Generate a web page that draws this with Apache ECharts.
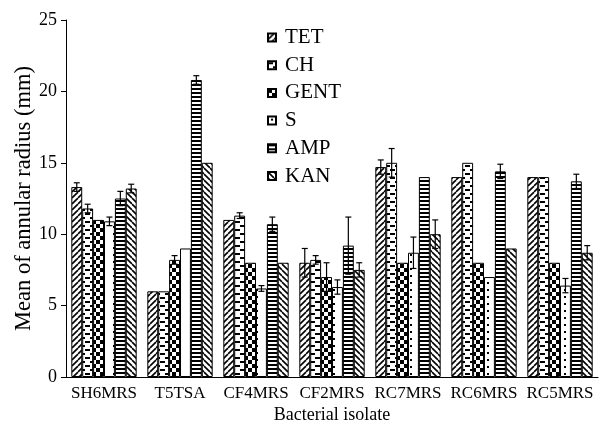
<!DOCTYPE html>
<html>
<head>
<meta charset="utf-8">
<script src="https://cdn.jsdelivr.net/npm/echarts@6/dist/echarts.min.js"></script>
<style>html,body{margin:0;padding:0;background:#fff}#c{width:599px;height:424px}</style>
</head>
<body>
<div id="c"></div>
<script>
const categories = ['SH6MRS', 'T5TSA', 'CF4MRS', 'CF2MRS', 'RC7MRS', 'RC6MRS', 'RC5MRS'];
const seriesNames = ['TET', 'CH', 'GENT', 'S', 'AMP', 'KAN'];
const tetValues  = [13.3, 6.0, 11.0, 8.0, 14.7, 14.0, 14.0];
const tetErrors  = [0.3, 0, 0, 1.0, 0.5, 0, 0];
const chValues   = [11.8, 6.0, 11.3, 8.2, 15.0, 15.0, 14.0];
const chErrors   = [0.3, 0, 0.2, 0.3, 1.0, 0, 0];
const gentValues = [11.0, 8.2, 8.0, 7.0, 8.0, 8.0, 8.0];
const gentErrors = [0, 0.3, 0, 1.0, 0, 0, 0];
const sValues    = [10.9, 9.0, 6.2, 6.3, 8.7, 7.0, 6.4];
const sErrors    = [0.3, 0, 0.2, 0.5, 1.1, 0, 0.5];
const ampValues  = [12.5, 20.8, 10.7, 9.2, 14.0, 14.4, 13.7];
const ampErrors  = [0.5, 0.3, 0.5, 2.0, 0, 0.5, 0.5];
const kanValues  = [13.2, 15.0, 8.0, 7.5, 10.0, 9.0, 8.7];
const kanErrors  = [0.3, 0, 0, 0.5, 1.0, 0, 0.5];
const yTicks = [0, 5, 10, 15, 20, 25];

const allValues = [tetValues, chValues, gentValues, sValues, ampValues, kanValues];
const allErrors = [tetErrors, chErrors, gentErrors, sErrors, ampErrors, kanErrors];

function makePattern(w, h, draw) {
  const c = document.createElement('canvas');
  c.width = w; c.height = h;
  const ctx = c.getContext('2d');
  ctx.fillStyle = '#fff';
  ctx.fillRect(0, 0, w, h);
  ctx.fillStyle = '#000';
  ctx.strokeStyle = '#000';
  draw(ctx, w, h);
  return { image: c, repeat: 'repeat' };
}
const patterns = [
  // TET: "/" diagonal stripes
  makePattern(6, 6, (ctx) => {
    ctx.lineWidth = 1.6;
    for (let k = -1; k <= 1; k++) {
      ctx.beginPath(); ctx.moveTo(k * 6, 6); ctx.lineTo(k * 6 + 6, 0); ctx.stroke();
    }
  }),
  // CH: horizontal offset dashes
  makePattern(10, 8, (ctx) => {
    ctx.fillRect(0, 1, 5, 2);
    ctx.fillRect(5, 5, 5, 2);
  }),
  // GENT: checkerboard
  makePattern(8, 8, (ctx) => {
    ctx.fillRect(0, 0, 4, 4);
    ctx.fillRect(4, 4, 4, 4);
  }),
  // S: sparse dots
  makePattern(11, 7, (ctx) => {
    ctx.fillRect(3, 2, 2, 2);
  }),
  // AMP: horizontal stripes
  makePattern(4, 4, (ctx) => {
    ctx.fillRect(0, 0, 4, 2);
  }),
  // KAN: "\" diagonal stripes
  makePattern(6, 6, (ctx) => {
    ctx.lineWidth = 1.6;
    for (let k = -1; k <= 1; k++) {
      ctx.beginPath(); ctx.moveTo(k * 6, 0); ctx.lineTo(k * 6 + 6, 6); ctx.stroke();
    }
  })
];

const CAT_GAP = 0.14;
const FONT = 'Liberation Serif';

const series = [];
seriesNames.forEach((name, i) => {
  series.push({
    name: name,
    type: 'bar',
    data: allValues[i],
    barGap: '0%',
    barCategoryGap: (CAT_GAP * 100) + '%',
    itemStyle: { color: patterns[i], borderColor: '#000', borderWidth: 1 },
    emphasis: { disabled: true },
    animation: false
  });
});
seriesNames.forEach((name, i) => {
  series.push({
    type: 'custom',
    name: name + '_err',
    z: 10,
    animation: false,
    silent: true,
    data: categories.map((c, j) => [j, allValues[i][j], allErrors[i][j]]),
    renderItem: function (params, api) {
      const ci = api.value(0), v = api.value(1), e = api.value(2);
      if (!e) return;
      const catW = api.size([1, 0])[0];
      const groupW = catW * (1 - CAT_GAP);
      const bw = groupW / seriesNames.length;
      const cx = api.coord([ci, v])[0] - groupW / 2 + (i + 0.5) * bw;
      const yt = api.coord([ci, v + e])[1];
      const yb = api.coord([ci, v - e])[1];
      const cap = 3;
      const st = { stroke: '#000', lineWidth: 1.2 };
      return {
        type: 'group',
        children: [
          { type: 'line', shape: { x1: cx, y1: yt, x2: cx, y2: yb }, style: st },
          { type: 'line', shape: { x1: cx - cap, y1: yt, x2: cx + cap, y2: yt }, style: st },
          { type: 'line', shape: { x1: cx - cap, y1: yb, x2: cx + cap, y2: yb }, style: st }
        ]
      };
    }
  });
});

const chart = echarts.init(document.getElementById('c'), null, { renderer: 'canvas' });
chart.setOption({
  animation: false,
  backgroundColor: '#fff',
  textStyle: { fontFamily: FONT, color: '#000' },
  grid: { left: 66, right: 1, top: 20, bottom: 47, containLabel: false, outerBoundsMode: 'none' },
  legend: {
    data: seriesNames,
    orient: 'vertical',
    left: 262,
    top: 22,
    itemWidth: 8,
    itemHeight: 8,
    itemGap: 6.7,
    icon: 'rect',
    textStyle: { fontFamily: FONT, fontSize: 21, lineHeight: 21, color: '#000', padding: [0, 0, 0, 4] },
    selectedMode: false
  },
  xAxis: {
    type: 'category',
    data: categories,
    name: 'Bacterial isolate',
    nameLocation: 'middle',
    nameGap: 29,
    nameMoveOverlap: false,
    nameTextStyle: { fontFamily: FONT, fontSize: 18, color: '#000' },
    axisLine: { lineStyle: { color: '#000', width: 1 } },
    axisTick: { show: false },
    axisLabel: { fontFamily: FONT, fontSize: 17, color: '#000', margin: 8, interval: 0 }
  },
  yAxis: {
    type: 'value',
    min: yTicks[0],
    max: yTicks[yTicks.length - 1],
    interval: 5,
    name: 'Mean of annular radius (mm)',
    nameLocation: 'middle',
    nameGap: 30,
    nameMoveOverlap: false,
    nameTextStyle: { fontFamily: FONT, fontSize: 22.5, color: '#000' },
    axisLine: { show: true, lineStyle: { color: '#000', width: 1 } },
    axisTick: { show: true, length: 5, lineStyle: { color: '#000' } },
    axisLabel: { fontFamily: FONT, fontSize: 18, color: '#000', margin: 9 },
    splitLine: { show: false }
  },
  series: series
});
</script>
</body>
</html>
